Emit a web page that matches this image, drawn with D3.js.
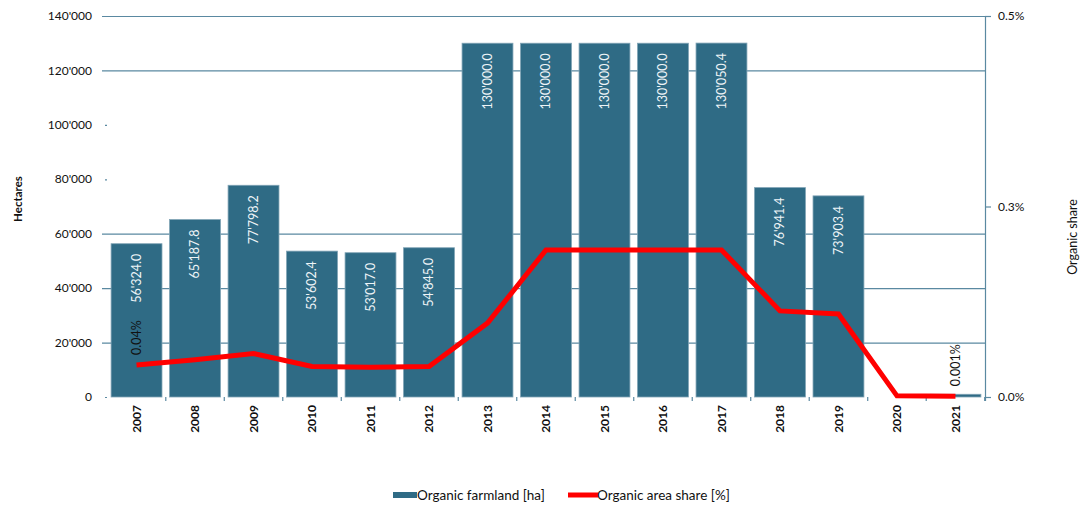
<!DOCTYPE html>
<html><head><meta charset="utf-8">
<script src="https://cdn.jsdelivr.net/npm/d3@7"></script>
<style>
body{margin:0;background:#fff;}
text{font-family:Lato,"Open Sans",sans-serif;}
</style></head>
<body><svg id="c" width="1083" height="511"></svg>
<script>
const years = ["2007","2008","2009","2010","2011","2012","2013","2014","2015","2016","2017","2018","2019","2020","2021"];
const farmland = [56324.0,65187.8,77798.2,53602.4,53017.0,54845.0,130000.0,130000.0,130000.0,130000.0,130050.4,76941.4,73903.4,0,1000];
const share = [0.042,0.049,0.057,0.040,0.039,0.040,0.097,0.193,0.193,0.193,0.193,0.113,0.109,0.0015,0.001];
const showBarLabel = [true,true,true,true,true,true,true,true,true,true,true,true,true,false,false];
const lineLabels = [{i:0,t:"0.04%"},{i:14,t:"0.001%"}];
const leftTicks = [0,20000,40000,60000,80000,100000,120000,140000];
const gridTicks = [20000,40000,60000,120000,140000];
const rightTicks = [0,0.25,0.5];
const rightTickLabels = ["0.0%","0.3%","0.5%"];
const legendLabels = ["Organic farmland [ha]","Organic area share [%]"];

const BAR = "#2f6b85", GRID = "#5a89a1", RED = "#ff0000";
const svg = d3.select("#c");
const L = 107, R = 985, T = 16, B = 397;
const x = d3.scaleBand().domain(years).range([L,R]).paddingInner(0.13).paddingOuter(0.07);
const yL = d3.scaleLinear().domain([0,140000]).range([B,T]);
const yR = d3.scaleLinear().domain([0,0.5]).range([B,T]);
const loc = d3.formatLocale({decimal:".",thousands:"'",grouping:[3],currency:["",""]});
const fmt1 = loc.format(",.1f"), fmt0 = loc.format(",d");

// gridlines
svg.append("g").selectAll("line").data(gridTicks).join("line")
  .attr("x1",102).attr("x2",R).attr("y1",d=>yL(d)+0.5).attr("y2",d=>yL(d)+0.5)
  .attr("stroke",GRID).attr("stroke-width",1.2);
svg.append("g").selectAll("line").data(leftTicks.filter(t=>!gridTicks.includes(t))).join("line")
  .attr("x1",105).attr("x2",107).attr("y1",d=>yL(d)+0.5).attr("y2",d=>yL(d)+0.5)
  .attr("stroke",GRID).attr("stroke-width",1.2);
svg.append("g").selectAll("text").data(leftTicks).join("text")
  .attr("x",92).attr("y",d=>yL(d)).attr("dy","0.35em").attr("text-anchor","end")
  .attr("font-size",12).attr("fill","#111").text(d=>fmt0(d));

// right axis
svg.append("line").attr("x1",R+0.5).attr("x2",R+0.5).attr("y1",T).attr("y2",B+4).attr("stroke",GRID).attr("stroke-width",1.2);
svg.append("g").selectAll("line").data(rightTicks).join("line")
  .attr("x1",R).attr("x2",R+6).attr("y1",d=>yR(d)+0.5).attr("y2",d=>yR(d)+0.5).attr("stroke",GRID).attr("stroke-width",1.2);
svg.append("g").selectAll("text").data(rightTicks).join("text")
  .attr("x",998).attr("y",d=>yR(d)).attr("dy","0.35em").attr("font-size",12).attr("fill","#111")
  .text((d,i)=>rightTickLabels[i]);

// x tick marks at boundaries
const step = x.step(), pad = step*x.paddingInner()/2;
svg.append("g").selectAll("line").data(years.slice(1).concat(["end"])).join("line")
  .attr("x1",(d,i)=> i<years.length-1 ? x(d)-pad : x(years[years.length-1])+x.bandwidth()+pad)
  .attr("x2",(d,i)=> i<years.length-1 ? x(d)-pad : x(years[years.length-1])+x.bandwidth()+pad)
  .attr("y1",B).attr("y2",B+4).attr("stroke",GRID).attr("stroke-width",1.2);

// bars
svg.append("g").selectAll("rect").data(years).join("rect")
  .attr("x",d=>x(d)).attr("width",x.bandwidth())
  .attr("y",(d,i)=>yL(farmland[i])).attr("height",(d,i)=>B-yL(farmland[i]))
  .attr("fill",BAR).attr("stroke","#7fa3b5").attr("stroke-width",0.8);

// bar labels
svg.append("g").selectAll("text").data(years.filter((d,i)=>showBarLabel[i])).join("text")
  .attr("transform",d=>{const i=years.indexOf(d);return `translate(${x(d)+x.bandwidth()/2},${yL(farmland[i])+10}) rotate(-90)`;})
  .attr("dy","0.35em").attr("text-anchor","end").attr("font-size",12.5).attr("fill","#eef4f7")
  .text(d=>fmt1(farmland[years.indexOf(d)]));

// x labels
svg.append("g").selectAll("text").data(years).join("text")
  .attr("transform",d=>`translate(${x(d)+x.bandwidth()/2},${B+8}) rotate(-90)`)
  .attr("dy","0.35em").attr("text-anchor","end").attr("font-size",12).attr("font-weight","bold").attr("fill","#111")
  .text(d=>d);

// line
const line = d3.line().x((d,i)=>x(years[i])+x.bandwidth()/2).y(d=>yR(d));
svg.append("path").datum(share).attr("d",line).attr("fill","none").attr("stroke",RED).attr("stroke-width",5).attr("stroke-linejoin","miter");

// line labels
svg.append("g").selectAll("text").data(lineLabels).join("text")
  .attr("transform",d=>`translate(${x(years[d.i])+x.bandwidth()/2},${yR(share[d.i])-10}) rotate(-90)`)
  .attr("dy","0.35em").attr("font-size",12.5).attr("fill","#111").text(d=>d.t);

// axis titles
svg.append("text").attr("transform","translate(18,199) rotate(-90)").attr("dy","0.35em").attr("text-anchor","middle")
  .attr("font-size",11.5).attr("font-weight","bold").attr("fill","#111").text("Hectares");
svg.append("text").attr("transform","translate(1073,237) rotate(-90)").attr("dy","0.35em").attr("text-anchor","middle")
  .attr("font-size",12.5).attr("fill","#111").text("Organic share");

// legend
const lg = svg.append("g");
lg.append("rect").attr("x",393).attr("y",492).attr("width",24).attr("height",6).attr("fill",BAR);
lg.append("text").attr("x",417).attr("y",495).attr("dy","0.35em").attr("font-size",13.5).attr("fill","#111").text(legendLabels[0]);
lg.append("line").attr("x1",568).attr("x2",598).attr("y1",495).attr("y2",495).attr("stroke",RED).attr("stroke-width",5);
lg.append("text").attr("x",597).attr("y",495).attr("dy","0.35em").attr("font-size",13.5).attr("fill","#111").text(legendLabels[1]);
</script></body></html>
